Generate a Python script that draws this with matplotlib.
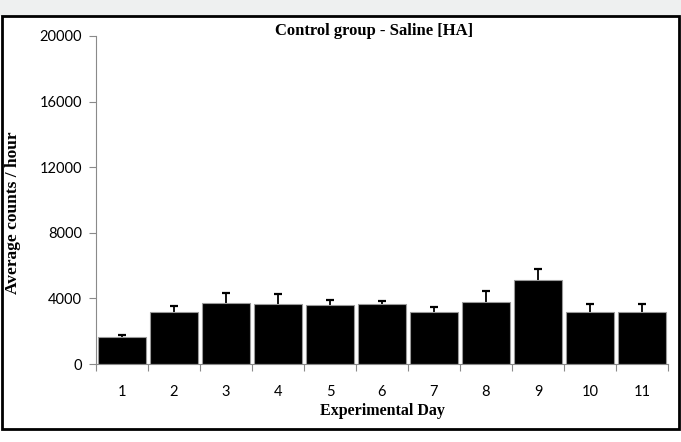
import matplotlib
matplotlib.use("Agg")
import matplotlib.pyplot as plt
from matplotlib.patches import Rectangle
import numpy as np

days = ["1", "2", "3", "4", "5", "6", "7", "8", "9", "10", "11"]
means = [1640, 3160, 3710, 3650, 3590, 3650, 3160, 3770, 5100, 3160, 3160]
errors = [140, 370, 610, 600, 300, 180, 310, 670, 680, 490, 490]
yticks = [0, 4000, 8000, 12000, 16000, 20000]

W, H = 681, 442
fig = plt.figure(figsize=(W / 100, H / 100), dpi=100)
fig.patch.set_facecolor("white")

# light strip at top and outer frame
fig.patches.append(Rectangle((0, 1 - 16 / H), 1, 16 / H, transform=fig.transFigure,
                             facecolor="#eef0f0", edgecolor="none", zorder=0))
fig.patches.append(Rectangle((2 / W, 13 / H), (W - 4) / W, (H - 16 - 13) / H, transform=fig.transFigure,
                             facecolor="none", edgecolor="black", linewidth=2, zorder=5))

ax = fig.add_axes([96 / W, 1 - 364 / H, (668 - 96) / W, (364 - 36) / H])
x = np.arange(len(days))
ax.bar(x, means, width=0.93, color="black", edgecolor="#9a9a9a", linewidth=0.8, zorder=2)
# symmetric error bars drawn behind the bars, so only the upper part shows
ax.errorbar(x, means, yerr=errors, fmt="none", ecolor="black",
            elinewidth=1.3, capsize=2.7, capthick=1.6, zorder=1)

ax.set_xlim(-0.5, len(days) - 0.5)
ax.set_ylim(0, 20000)
ax.set_yticks(yticks)
ax.set_yticklabels([str(v) for v in yticks], fontname="Lato", fontsize=10.5)
ax.set_xticks(x)
ax.set_xticklabels(days, fontname="Lato", fontsize=10.5)
ax.set_xticks(np.arange(len(days) + 1) - 0.5, minor=True)
ax.tick_params(axis="x", which="major", length=0, pad=15)
ax.tick_params(axis="x", which="minor", length=5, color="#8a8a8a", width=0.8)
ax.tick_params(axis="y", length=5, color="#8a8a8a", width=0.8, pad=5)

for s in ["top", "right"]:
    ax.spines[s].set_visible(False)
for s in ["left", "bottom"]:
    ax.spines[s].set_color("#8a8a8a")
    ax.spines[s].set_linewidth(0.8)

ax.set_xlabel("Experimental Day", fontname="Liberation Serif", fontweight="bold", fontsize=11.5, labelpad=3)
fig.text(13 / W, 1 - 213 / H, "Average counts / hour", rotation=90, ha="center", va="center",
         fontname="Liberation Serif", fontweight="bold", fontsize=12.5)
fig.text(374 / W, 1 - 31 / H, "Control group - Saline [HA]", ha="center", va="center",
         fontname="Liberation Serif", fontweight="bold", fontsize=12)

fig.savefig("out.png", dpi=100)
